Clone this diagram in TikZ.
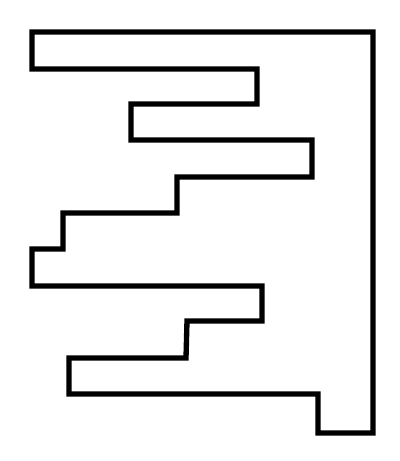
\documentclass[tikz,border=0pt]{standalone}
\tikzstyle{outline} = [draw=black, line width=3.8pt, line join=miter]

\begin{document}
\begin{tikzpicture}[x=0.025cm, y=-0.025cm]

% Frame
\useasboundingbox (0,0) rectangle (400,461);

% Outline
\draw [outline] (32,32) -- (373,32) -- (373,433) -- (318,433) -- (318,394)
  -- (69,394) -- (69,358) -- (186,358) -- (187,321) -- (262,321) -- (262,286)
  -- (32,286) -- (32,249) -- (63,249) -- (63,213) -- (177,213) -- (177,177)
  -- (312,177) -- (312,140) -- (131,140) -- (131,104) -- (257,104) -- (257,69)
  -- (32,69) -- cycle;

\end{tikzpicture}
\end{document}
